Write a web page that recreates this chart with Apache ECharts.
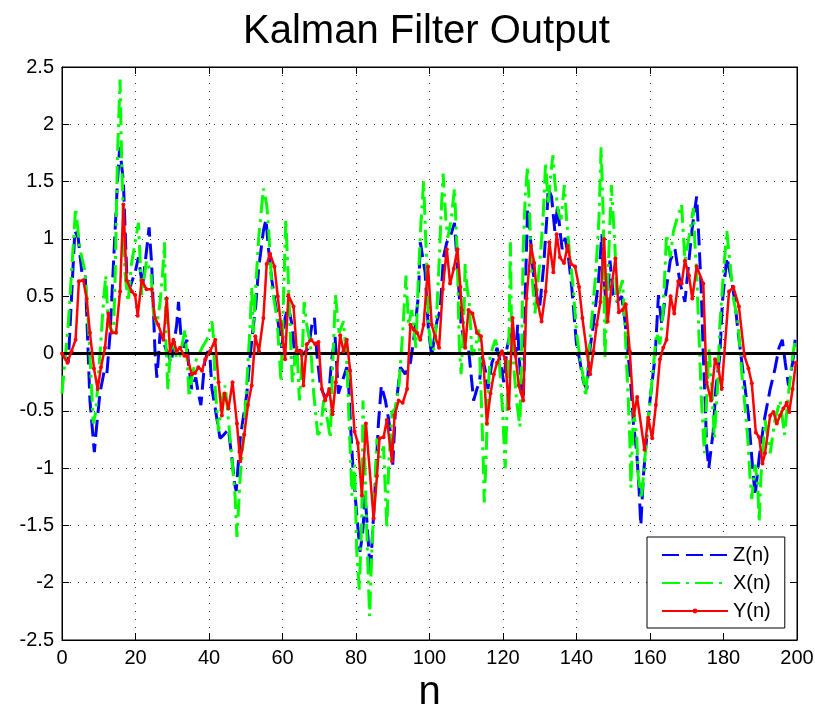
<!DOCTYPE html>
<html>
<head>
<meta charset="utf-8">
<script src="https://cdn.jsdelivr.net/npm/echarts@6/dist/echarts.min.js"></script>
<style>
html,body{margin:0;padding:0;background:#fff;}
#c{width:815px;height:707px;}
</style>
</head>
<body>
<div id="c"></div>
<script>
// Series names and tick settings
var seriesNames = ['Z(n)', 'X(n)', 'Y(n)'];
var xTicks = {min: 0, max: 200, interval: 20};
var yTicks = {min: -2.5, max: 2.5, interval: 0.5};

// Z(n): [n, value]
var zData = [[0,0],[1.7,-0.08],[3.5,1.07],[4.4,1.01],[5.4,0.71],[6.3,0.71],[7.6,-0.41],[8.8,-0.86],[9.2,-0.71],[10.3,-0.35],[11.5,-0.15],[12.2,-0.18],[13.1,0.18],[14.2,0.91],[15.1,1.5],[15.7,1.8],[16.7,1.5],[17.6,0.71],[18.5,0.58],[19.9,0.71],[20.8,0.84],[21.9,0.58],[22.8,0.84],[23.7,1.1],[24.4,0.78],[25.3,0.02],[25.8,-0.21],[26.2,-0.05],[26.7,0.18],[28.5,0.02],[29.7,-0.08],[30.3,0.05],[31.2,0.25],[31.7,0.45],[32.3,0.18],[33.1,0.05],[34,0.12],[34.4,-0.08],[35.3,-0.31],[36.4,-0.21],[37.1,-0.35],[37.8,-0.45],[38.8,-0.08],[39.7,0.02],[40.3,-0.05],[40.8,-0.31],[41.7,-0.48],[43,-0.74],[44,-0.71],[45.3,-0.66],[46.2,-0.91],[47,-1.14],[47.4,-1.2],[48.5,-0.74],[50.3,-0.35],[51.2,-0.02],[52.1,0.25],[52.7,0.41],[53.5,0.74],[54.8,1.07],[55.5,1.17],[56.2,0.91],[57.1,0.64],[58,0.45],[58.9,0.25],[59.8,0.05],[60.7,0.31],[61.6,0.41],[62.6,0.25],[63.5,-0.08],[64.4,0.05],[65.3,-0.02],[67.1,0.05],[68,0.25],[68.7,0.31],[69.4,-0.02],[70.3,-0.28],[71.5,-0.38],[72.6,-0.35],[73.4,-0.05],[74.3,0.15],[75.2,-0.35],[76.6,-0.21],[77.5,-0.12],[78,-0.28],[78.7,-0.74],[79.3,-1.07],[80.2,-1.4],[81.1,-1.73],[81.8,-1.57],[82.5,-1.24],[83.4,-1.67],[83.9,-1.93],[84.5,-1.57],[85.2,-1.17],[86.1,-0.61],[86.9,-0.28],[88,-0.41],[88.9,-0.58],[89.6,-0.74],[90,-0.97],[90.7,-0.51],[91.4,-0.31],[92.1,-0.12],[93.4,-0.18],[94.8,-0.08],[95.7,0.12],[97,0.51],[97.5,0.97],[98.8,0.71],[99.7,0.21],[100.6,-0.02],[102,0.28],[102.9,0.38],[103.8,0.84],[104.7,0.97],[105.6,1.01],[106.8,1.14],[107.7,0.71],[108.6,0.25],[109.7,0.05],[110.6,0.05],[111.4,-0.21],[112,-0.41],[112.9,-0.31],[113.6,-0.25],[114.3,-0.02],[115.2,-0.15],[115.9,-0.31],[117,-0.08],[118.4,0.05],[119.3,-0.08],[120.2,-0.25],[121.1,0.05],[122.5,0.25],[123.4,-0.02],[124,0.25],[124.3,0.02],[124.9,-0.25],[125.5,-0.41],[125.8,-0.08],[126.1,0.58],[126.7,1.27],[127.3,1.07],[128.2,0.71],[129.1,0.51],[130,0.41],[131,0.74],[131.9,1.17],[132.3,1.44],[133.2,1.37],[134.1,1.07],[134.9,1.3],[135.5,1.07],[136.1,0.91],[136.9,1.01],[137.8,0.84],[138.7,0.58],[139.4,0.31],[140,0.08],[141,-0.08],[141.9,-0.25],[142.8,-0.31],[143.7,0.05],[144.6,0.25],[146,0.64],[146.9,1.04],[147.3,0.71],[148.2,0.38],[149.1,0.81],[150,0.51],[150.9,0.45],[152.3,0.5],[153.2,0.28],[154.1,-0.02],[154.8,-0.28],[155.5,-0.61],[156.4,-0.87],[157,-1.17],[157.5,-1.5],[158.2,-1.07],[158.8,-0.84],[160,-0.41],[161.4,-0.02],[162.3,0.51],[163.2,0.25],[164.1,0.48],[165.5,0.81],[166.8,0.91],[168.2,0.61],[169.5,0.45],[170.5,0.78],[171.5,1.1],[172.7,1.37],[173.3,1.0],[174,0.51],[174.5,-0.02],[175,-0.41],[175.4,-0.81],[176,-1.0],[177.2,-0.68],[177.9,-0.31],[179,-0.02],[179.7,0.45],[180.9,0.84],[182.2,0.64],[183.1,0.45],[184,0.18],[185,-0.08],[185.9,-0.31],[186.8,-0.54],[187.7,-0.91],[188.6,-1.24],[189.7,-0.91],[191.1,-0.58],[192.7,-0.31],[193.9,-0.15],[195.1,0.05],[196,0.12],[196.8,-0.08],[197.7,-0.28],[198.8,-0.08],[199.5,0.12]];

// X(n): [n, value]
var xData = [[0,-0.35],[1.7,0.25],[3.7,1.27],[4.9,0.91],[6.3,0.71],[7.2,0.25],[8.5,-0.61],[9.2,-0.51],[10.3,-0.02],[11.2,0.41],[11.9,0.68],[12.6,0.25],[14,0.18],[14.4,0.58],[15.1,1.73],[15.8,2.39],[16.2,1.73],[17.1,0.71],[18,0.45],[18.9,0.78],[20.8,1.14],[21.7,0.51],[23,0.81],[24.2,0.71],[24.9,0.35],[25.8,0.25],[26.7,0.45],[27.4,0.71],[27.9,0.97],[28.3,0.08],[28.8,-0.31],[29.4,-0.02],[30.3,0.12],[31.2,-0.05],[32.1,-0.02],[33.5,0.21],[34,-0.02],[34.6,-0.38],[35.3,-0.21],[36.2,-0.08],[38.1,0.05],[39.4,0.12],[40.8,0.28],[41.2,0.15],[41.7,-0.31],[42.6,-0.68],[43.5,-0.41],[44.4,-0.28],[45.3,-0.58],[46.2,-0.91],[47.1,-1.24],[47.6,-1.6],[48.5,-1.07],[49.4,-0.74],[50.3,-0.25],[51.2,0.25],[51.6,0.58],[52.1,0.18],[52.7,0.58],[53.6,1.04],[54.8,1.44],[55.7,1.3],[56.2,1.1],[57.1,0.58],[58.5,0.31],[59.6,-0.25],[60.3,0.51],[60.9,1.17],[61.5,0.71],[62.1,0.18],[62.7,-0.25],[63.9,0.08],[64.6,-0.41],[65.3,-0.08],[65.9,0.45],[66.6,0.25],[67.6,0.08],[68.5,-0.35],[69.6,-0.71],[70.3,-0.68],[71.2,-0.41],[72.4,-0.61],[73,-0.74],[73.6,-0.15],[74.4,0.51],[75.4,0.18],[76.6,0.28],[77.5,-0.08],[78.1,-0.58],[78.9,-1.24],[79.6,-0.97],[80.2,-1.73],[80.9,-2.06],[81.6,-1.4],[81.9,-0.41],[82.5,-1.07],[83.1,-1.73],[83.7,-2.29],[84.3,-1.73],[85,-1.24],[85.7,-0.74],[86.6,-0.91],[87.5,-0.81],[88.4,-1.53],[88.9,-0.97],[89.8,-0.51],[90.7,-0.48],[91.6,-0.31],[92.7,0.18],[93.6,0.68],[94.3,0.25],[95.2,0.38],[96.3,0.05],[96.9,0.6],[97.6,1.1],[98.4,1.5],[99.3,0.71],[99.7,0.25],[100.6,0.02],[101.5,0.05],[102.5,0.71],[103.2,1.24],[103.7,1.57],[104.5,1.14],[105,1.01],[105.9,1.17],[106.8,1.44],[107.5,0.91],[108.1,0.08],[108.6,-0.18],[109.3,0.25],[109.7,0.78],[110.2,0.58],[110.8,0.45],[111.6,-0.02],[112.5,0.05],[113.4,0.21],[114.1,-0.41],[114.6,-0.91],[114.9,-1.3],[115.4,-0.91],[115.9,-0.35],[116.5,-0.02],[117.9,0.12],[118.8,0.02],[119.9,-0.51],[120.6,-1.0],[121.1,-0.48],[121.7,0.25],[122,0.97],[122.3,0.25],[123,-0.15],[123.7,-0.41],[124.6,-0.64],[125,-0.08],[125.5,0.91],[126.1,1.4],[126.7,1.63],[127.3,1.17],[127.8,0.71],[128.7,0.35],[129.4,0.58],[130.3,0.91],[131,1.24],[131.6,1.67],[132.3,1.3],[133,1.57],[133.6,1.73],[134.1,1.5],[135,1.24],[135.8,1.17],[136.7,1.47],[137.3,1.17],[138.2,0.84],[139.1,0.58],[140,0.18],[141,-0.05],[141.7,-0.18],[142.5,-0.38],[143.2,-0.05],[144.1,0.28],[145.2,0.68],[146.1,1.17],[146.7,1.8],[147.3,1.17],[147.7,-0.05],[148.6,0.71],[149.5,1.47],[150.5,0.91],[150.9,0.45],[152.5,0.64],[153.2,0.25],[153.6,-0.08],[154.1,-0.41],[154.5,-0.74],[154.8,-1.17],[155.5,-0.48],[156.4,-0.74],[156.8,-1.07],[157.7,-1.27],[158.6,-0.91],[159.5,-0.58],[160.5,-0.25],[161.8,0.18],[162.7,0.08],[163.6,0.38],[164.5,1.04],[165.5,0.84],[166.4,1.07],[167.3,1.17],[168.6,1.3],[169.5,0.81],[170.9,1.07],[171.8,1.27],[172.2,0.97],[172.7,0.71],[173.6,-0.08],[174,-0.41],[174.8,-0.87],[175.4,-0.41],[176,0.05],[176.8,-0.28],[177.5,-0.74],[178.4,-0.28],[179,0.25],[180,0.71],[180.9,1.07],[181.8,0.78],[182.7,0.48],[183.9,0.28],[185,-0.18],[185.7,-0.41],[186.6,-0.74],[187.2,-1.07],[187.7,-1.27],[188.6,-0.97],[189.3,-1.14],[189.7,-1.47],[190.2,-1.07],[191.3,-0.58],[192.7,-0.87],[194,-0.58],[195.4,-0.41],[196.6,-0.71],[197.7,-0.35],[198.8,-0.02],[199.5,0.12]];

// Y(n): [n, value]
var yData = [[0,0],[1.5,-0.08],[2.6,0.02],[3.7,0.12],[4.6,0.63],[5.8,0.64],[6.7,0.48],[7.6,0.18],[8.7,-0.13],[9.7,-0.31],[10.6,-0.12],[11.7,0.05],[12.6,0.35],[13.5,0.18],[14.7,0.18],[15.8,0.54],[16.7,1.3],[17.6,0.64],[19,0.54],[19.9,0.51],[20.6,0.33],[21.7,0.64],[23,0.56],[24.4,0.56],[25.3,0.31],[26.2,0.25],[27.6,0.12],[28.5,0.48],[29.4,0.02],[30.3,0.12],[31.2,0.02],[32.1,0.05],[33.3,-0.02],[34,-0.02],[35.3,-0.18],[36.2,-0.17],[37.1,-0.12],[38.1,-0.15],[39,-0.05],[40.3,0.02],[41.7,0.12],[42.6,-0.25],[43.5,-0.54],[44.2,-0.35],[45.3,-0.48],[46.4,-0.25],[47.6,-0.61],[48.5,-0.94],[49.6,-0.71],[50.6,-0.45],[51.6,-0.28],[52.6,0.15],[53.6,0.02],[54.8,0.31],[55.7,0.78],[56.6,0.87],[57.8,0.76],[58.7,0.5],[59.6,0.25],[60.7,-0.05],[61.6,0.51],[63,0.41],[63.9,0.02],[65.1,0.02],[65.7,-0.28],[66.6,0.08],[67.8,0.12],[68.9,0.08],[69.8,0.1],[70.7,-0.31],[71.6,-0.41],[72.7,-0.31],[73.6,-0.53],[74.5,-0.25],[75.7,0.16],[76.6,0.02],[77.5,0.12],[78.4,-0.15],[79.6,-0.68],[80.5,-0.78],[81.6,-1.24],[82.7,-0.61],[84.8,-1.44],[85.7,-1.07],[86.4,-0.74],[87.5,-0.73],[88.4,-0.58],[89.8,-0.94],[90.5,-0.54],[91.6,-0.41],[92.7,-0.43],[93.9,-0.31],[94.8,0.25],[95.7,0.21],[96.6,0.18],[97.5,0.12],[98.4,0.25],[99.6,0.76],[100.6,0.25],[101.5,0.15],[102.6,0.05],[103.6,0.56],[104.7,0.91],[105.6,0.61],[106.6,0.74],[107.6,0.91],[108.4,0.58],[108.8,0.38],[109.7,0.05],[110.6,0.38],[111.7,0.35],[112.9,0.18],[114,0.15],[114.7,-0.08],[115.6,-0.61],[116.6,-0.35],[117.5,-0.18],[118.4,-0.08],[119.7,0.02],[120.6,-0.05],[121.6,-0.48],[122.6,0.31],[123.4,-0.02],[124.3,-0.28],[125.5,-0.41],[126.4,0.48],[127.6,0.94],[128.5,0.79],[129.4,0.45],[130.5,0.28],[131.6,0.54],[132.6,0.97],[133.7,0.71],[134.6,1.04],[135.5,0.84],[136.6,0.79],[137.6,0.94],[138.5,0.78],[139.6,0.76],[140.7,0.58],[141.6,0.31],[142.8,0.02],[143.7,-0.18],[144.6,0.02],[145.5,0.25],[146.5,0.45],[147.5,1.0],[148.5,0.28],[149.5,0.58],[150.6,0.83],[151.5,0.36],[152.5,0.38],[153.4,0.43],[154.5,0.02],[155.6,-0.54],[156.5,-0.38],[158.5,-0.84],[159.5,-0.56],[160.6,-0.74],[161.6,-0.45],[162.7,-0.05],[163.6,0.05],[164.5,0.12],[165.6,0.5],[166.6,0.35],[167.7,0.63],[168.6,0.61],[169.5,0.81],[170.6,0.68],[171.5,0.48],[172.7,0.76],[174.5,0.61],[175.4,-0.25],[176.6,-0.41],[177.7,-0.05],[178.6,-0.12],[179.5,-0.31],[181.5,0.54],[182.7,0.58],[184.2,0.41],[185.7,-0.02],[186.8,-0.13],[187.7,-0.26],[188.8,-0.69],[189.7,-0.73],[190.6,-0.96],[191.3,-0.87],[192.7,-0.54],[193.6,-0.51],[194.5,-0.61],[195.4,-0.54],[196.3,-0.48],[197.2,-0.43],[197.9,-0.51],[198.8,-0.31],[199.7,-0.08]];

// zero reference line endpoints
var zeroLine = [[0,0],[200,0]];

var FONT = 'Liberation Sans, Arial, Helvetica, sans-serif';
var chart = echarts.init(document.getElementById('c'), null, {renderer: 'canvas'});

function baseAxisStyle(show) {
  return {
    axisLine: {show: true, onZero: false, lineStyle: {color: '#000', width: 1}},
    axisTick: {show: true, inside: true, length: 7, lineStyle: {color: '#000', width: 1}},
    axisLabel: {show: show, color: '#000', fontFamily: FONT, fontSize: 20, margin: 8},
  };
}

var option = {
  animation: false,
  backgroundColor: '#fff',
  title: {
    text: 'Kalman Filter Output',
    left: 243, top: 12, padding: 0,
    textStyle: {fontFamily: FONT, fontSize: 40, fontWeight: 'normal', color: '#000'}
  },
  grid: {left: 62, right: 18, top: 67, bottom: 67, outerBoundsMode: 'none', containLabel: false,
         show: true, borderColor: '#000', borderWidth: 1, backgroundColor: '#fff'},
  legend: {
    data: [
      {name: seriesNames[0], itemStyle: {opacity: 0}},
      {name: seriesNames[1], itemStyle: {opacity: 0}},
      {name: seriesNames[2]}
    ],
    orient: 'vertical',
    left: 647, top: 537,
    padding: [8, 14, 7, 14],
    itemWidth: 66, itemHeight: 6, itemGap: 8,
    backgroundColor: '#fff', borderColor: '#000', borderWidth: 1, borderRadius: 0,
    textStyle: {fontFamily: FONT, fontSize: 20, color: '#000', lineHeight: 20}
  },
  xAxis: [
    Object.assign({
      type: 'value', min: xTicks.min, max: xTicks.max, interval: xTicks.interval,
      name: 'n', nameLocation: 'middle', nameGap: 17,
      nameTextStyle: {fontFamily: FONT, fontSize: 40, color: '#000'},
      splitLine: {show: true, lineStyle: {type: [1, 7], color: '#333', width: 1}}
    }, baseAxisStyle(true)),
    Object.assign({
      type: 'value', position: 'top', min: xTicks.min, max: xTicks.max, interval: xTicks.interval,
      splitLine: {show: false}
    }, baseAxisStyle(false))
  ],
  yAxis: [
    Object.assign({
      type: 'value', min: yTicks.min, max: yTicks.max, interval: yTicks.interval,
      splitLine: {show: true, lineStyle: {type: [1, 7], color: '#333', width: 1}}
    }, baseAxisStyle(true)),
    Object.assign({
      type: 'value', position: 'right', min: yTicks.min, max: yTicks.max, interval: yTicks.interval,
      splitLine: {show: false}
    }, baseAxisStyle(false))
  ],
  series: [
    {
      name: seriesNames[0], type: 'line', data: zData, symbol: 'none',
      lineStyle: {color: '#0000ff', width: 3, type: [17, 7]}, itemStyle: {color: '#0000ff'}, z: 2
    },
    {
      name: seriesNames[1], type: 'line', data: xData, symbol: 'none',
      lineStyle: {color: '#00ff00', width: 3, type: [18, 6, 3, 6]}, itemStyle: {color: '#00ff00'}, z: 3
    },
    {
      name: 'zero', type: 'line', data: zeroLine, symbol: 'none', silent: true,
      lineStyle: {color: '#000', width: 3}, z: 4
    },
    {
      name: seriesNames[2], type: 'line', data: yData, symbol: 'circle', symbolSize: 4, showSymbol: true,
      lineStyle: {color: '#ff0000', width: 2.5}, itemStyle: {color: '#ff0000'}, z: 5
    }
  ]
};
chart.setOption(option);
</script>
</body>
</html>
